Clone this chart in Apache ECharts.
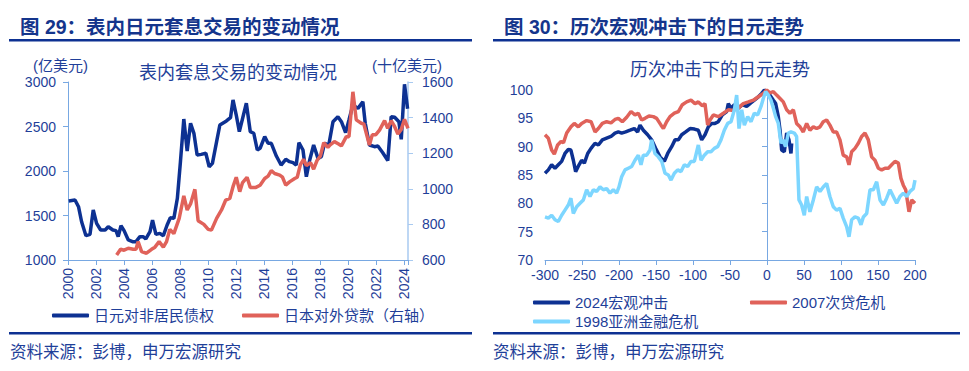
<!DOCTYPE html>
<html><head><meta charset="utf-8">
<script src="https://cdn.jsdelivr.net/npm/echarts@6/dist/echarts.min.js"></script>
<style>html,body{margin:0;padding:0;background:#fff}#c{width:969px;height:371px}</style>
</head><body><div id="c"></div>
<script>
// ---------- Chart 29 data ----------
const leftTitle = '图 29：表内日元套息交易的变动情况';
const leftInnerTitle = '表内套息交易的变动情况';
const leftSeriesNames = ['日元对非居民债权', '日本对外贷款（右轴）'];
// [decimal year, 亿美元]
const yenClaims = [[2000.05,1663],[2000.5,1674],[2000.75,1599],[2000.97,1430],[2001.28,1273],[2001.57,1289],[2001.8,1562],[2002.04,1412],[2002.33,1337],[2002.65,1337],[2002.87,1374],[2003.2,1337],[2003.42,1330],[2003.58,1262],[2003.78,1385],[2004.0,1330],[2004.3,1225],[2004.6,1206],[2004.85,1206],[2005.13,1262],[2005.37,1262],[2005.55,1236],[2005.85,1318],[2006.03,1449],[2006.27,1288],[2006.55,1299],[2006.8,1273],[2007.07,1393],[2007.3,1475],[2007.55,1468],[2007.8,1693],[2008.02,2105],[2008.26,2584],[2008.5,2225],[2008.74,2536],[2008.98,2423],[2009.21,2180],[2009.5,2187],[2009.83,2199],[2010.07,2048],[2010.3,2086],[2010.6,2330],[2010.83,2517],[2011.3,2562],[2011.59,2599],[2011.77,2798],[2012.0,2629],[2012.22,2442],[2012.72,2761],[2013.0,2442],[2013.25,2424],[2013.5,2236],[2013.7,2255],[2014.03,2386],[2014.27,2311],[2014.5,2311],[2014.86,2168],[2015.2,2067],[2015.53,2131],[2015.8,2105],[2016.05,2094],[2016.28,2067],[2016.47,2318],[2016.76,2236],[2017.0,1936],[2017.24,2124],[2017.52,2292],[2017.83,2142],[2018.07,2161],[2018.3,2311],[2018.6,2292],[2018.9,2554],[2019.25,2610],[2019.5,2554],[2019.8,2431],[2020.04,2573],[2020.32,2742],[2020.68,2704],[2021.03,2779],[2021.2,2536],[2021.5,2292],[2021.86,2273],[2022.1,2280],[2022.45,2205],[2022.81,2116],[2023.05,2610],[2023.3,2603],[2023.6,2554],[2023.77,2356],[2024.0,2974],[2024.22,2700]];
// [decimal year, 十亿美元]
const japanLoans = [[2003.47,628],[2003.75,660],[2004.0,655],[2004.3,666],[2004.65,660],[2004.85,660],[2005.0,703],[2005.25,647],[2005.6,638],[2005.96,660],[2006.2,672],[2006.5,703],[2006.8,672],[2007.03,703],[2007.26,772],[2007.55,748],[2007.93,834],[2008.26,960],[2008.5,881],[2008.74,915],[2009.05,997],[2009.28,821],[2009.69,800],[2010.0,772],[2010.23,768],[2010.6,834],[2010.95,881],[2011.25,937],[2011.54,946],[2011.77,1012],[2012.0,1065],[2012.25,984],[2012.44,1033],[2012.77,1065],[2013.0,1008],[2013.4,1008],[2013.7,1020],[2014.03,1058],[2014.27,1071],[2014.5,1102],[2014.74,1086],[2015.1,1077],[2015.3,1065],[2015.53,1021],[2015.8,1039],[2016.17,1058],[2016.35,1065],[2016.57,1134],[2016.8,1166],[2017.0,1130],[2017.3,1147],[2017.52,1110],[2017.76,1159],[2018.0,1184],[2018.24,1259],[2018.54,1233],[2018.7,1247],[2019.0,1265],[2019.3,1252],[2019.5,1241],[2019.85,1293],[2020.04,1293],[2020.32,1545],[2020.56,1387],[2020.92,1368],[2021.1,1364],[2021.5,1246],[2021.7,1303],[2021.94,1303],[2022.22,1330],[2022.58,1383],[2022.8,1340],[2023.05,1383],[2023.3,1349],[2023.53,1308],[2023.77,1334],[2024.0,1390],[2024.25,1340]];

// ---------- Chart 30 data ----------
const rightTitle = '图 30：历次宏观冲击下的日元走势';
const rightInnerTitle = '历次冲击下的日元走势';
const rightSeriesNames = ['2024宏观冲击', '2007次贷危机', '1998亚洲金融危机'];
// [days from shock, index]
const shock2024 = [[-300,85.3],[-295.5,85.9],[-291,86.8],[-286.5,86.2],[-282,86.8],[-277.5,87.4],[-273,88.8],[-268.5,89.5],[-265,89.4],[-261.7,87.6],[-258.6,85.6],[-254,86.8],[-250.5,87.6],[-246.8,87.1],[-242.3,88.8],[-237.8,89.7],[-232.4,90.6],[-227.9,90.3],[-222.5,91.2],[-216.7,91.5],[-210.8,91.8],[-205.4,92.4],[-200.9,92.6],[-196.4,92.4],[-191,92.6],[-185.1,92.9],[-179.3,93.2],[-174.8,92.6],[-171.6,93.8],[-167.1,92.9],[-161.3,92.1],[-155.9,91.2],[-150.5,89.7],[-144.6,88.2],[-138.7,87.4],[-134.2,88.8],[-128.8,90.0],[-124.3,91.2],[-119.8,91.2],[-115.3,92.1],[-109.9,92.6],[-104,93.2],[-98,93.1],[-92.8,92.9],[-88.3,91.2],[-83.8,92.1],[-79.3,93.5],[-74.8,94.1],[-70.3,94.1],[-65.8,94.4],[-60.4,95.6],[-54.5,96.2],[-52.3,97.6],[-48.6,96.8],[-44.1,97.4],[-38.7,96.8],[-33.3,97.4],[-27.5,97.1],[-23,97.6],[-17.1,98.2],[-11.7,98.8],[-7.2,99.4],[-3.6,100],[-0.5,99.7],[4,99.1],[8.6,98.2],[11.7,97.6],[15.3,95.3],[17.6,92.9],[19.8,89.4],[23.4,89.1],[26.6,92.4],[29.7,91.2],[32.4,88.8],[33.3,90.6]];
const crisis2007 = [[-300,92.1],[-295.5,91.5],[-291,89.4],[-287.4,88.7],[-282.9,90.3],[-278.4,90.9],[-275,90.7],[-270.7,92.4],[-264.9,93.5],[-260.4,94.1],[-255,93.5],[-250.5,94.1],[-243.7,94.6],[-237.8,94.4],[-232.4,92.6],[-227.9,93.2],[-222.5,94.1],[-216.7,94.4],[-210.8,94.2],[-205.4,94.8],[-200.9,95.0],[-195.5,94.4],[-189.6,95.2],[-183.8,96.2],[-178.4,95.6],[-173.9,95.9],[-169.4,94.7],[-164.9,95.0],[-159.5,95.4],[-153.6,95.3],[-149.1,95.0],[-143.2,93.8],[-140,93.2],[-135.6,94.4],[-131.1,95.3],[-125.2,95.9],[-119.8,96.2],[-114.4,97.4],[-108.6,97.9],[-102.7,98.2],[-97.3,97.6],[-92.8,97.9],[-87.4,97.2],[-83.8,97.6],[-80.2,93.8],[-77,94.7],[-72.5,95.6],[-65.8,95.3],[-59,95.9],[-52.3,96.5],[-45.5,96.4],[-38.7,96.8],[-32,97.6],[-25.2,97.9],[-18.5,98.2],[-11.7,98.8],[-5,99.4],[-0.5,100],[4,99.5],[8.6,99.7],[13,99.1],[17.6,98.5],[22,97.9],[26.6,96.5],[31,95.9],[35.6,96.5],[40,94.1],[44.6,93.5],[49,92.6],[53.6,94.1],[58,92.9],[62.6,93.5],[67.1,93.2],[71.6,93.5],[76,94.4],[80.6,94.7],[85,93.8],[89.6,92.6],[94,92.6],[98.6,91.2],[103,88.5],[107.6,88.2],[110.8,86.8],[114.4,89.1],[118.9,89.7],[123.4,90.6],[127.9,91.8],[132.4,92.4],[136.9,91.2],[141.4,88.2],[145.9,87.6],[150.5,86.2],[155,85.9],[159.5,86.2],[164,86.2],[168.5,86.8],[173,87.4],[177.5,87.1],[181,84.4],[184.2,83.2],[187.4,82.4],[191.9,78.5],[195.5,80.6],[200,80.0]];
const crisis1998 = [[-300,77.6],[-295.5,77.4],[-291,77.9],[-286.5,77.1],[-282,76.8],[-277.5,77.9],[-273,78.8],[-268.5,79.7],[-265,80.9],[-261.7,78.2],[-257.2,79.4],[-252.7,80.0],[-248.2,80.6],[-243.7,82.4],[-239.2,81.2],[-234.7,82.4],[-230.2,82.1],[-225.7,82.9],[-221.2,82.4],[-216.7,82.6],[-212.2,81.8],[-207.7,82.4],[-203.2,81.8],[-200,82.9],[-196.4,84.7],[-191.9,85.9],[-187.4,86.2],[-182.9,86.5],[-178.4,87.6],[-173.9,88.5],[-170.3,86.8],[-167.1,88.5],[-162.6,88.5],[-158.1,89.4],[-155.9,91.2],[-151.4,88.8],[-146.8,88.2],[-142.3,87.4],[-137.8,85.3],[-133.3,85.0],[-129.7,84.1],[-125.2,85.3],[-120.7,85.9],[-116.2,85.6],[-111.7,86.8],[-107.2,86.5],[-102.7,87.4],[-98.2,87.4],[-92.8,90.3],[-89.2,87.6],[-84.7,88.5],[-80.2,89.1],[-75.7,89.1],[-71.2,89.7],[-66.7,90.0],[-62.2,91.2],[-57.7,92.9],[-53.2,94.1],[-48.6,94.4],[-44.1,96.5],[-41,99.1],[-37.8,93.2],[-34.2,96.5],[-30.6,93.8],[-26.1,95.3],[-21.6,94.4],[-17.1,95.9],[-12.6,95.6],[-8.1,97.1],[-5,98.5],[-1.8,99.7],[1.8,99.1],[5.4,98.2],[8.6,96.8],[11.7,95.3],[15.3,94.1],[18.9,90.6],[22,91.2],[25.2,90.0],[28.8,92.4],[32.4,92.6],[36.9,92.4],[40,91.8],[43.2,80.6],[46.8,79.7],[50.4,77.9],[53.6,81.2],[58,78.5],[62.6,80.6],[67.1,82.9],[71.6,82.1],[76,82.9],[80.6,83.5],[85,81.2],[89.6,79.4],[94,78.8],[98.6,79.1],[103,77.4],[107.6,75.9],[110.8,74.1],[114.4,77.1],[118.9,77.6],[123.4,77.4],[127,76.2],[130.2,77.6],[134.7,78.2],[139.2,82.4],[143.7,82.4],[148.2,83.8],[152.7,80.6],[157.3,79.7],[161.7,80.9],[166.2,82.4],[170.7,81.2],[175.2,80.0],[179.7,81.2],[184.2,81.8],[188.7,81.2],[193.2,82.1],[197.7,82.6],[200,84.1]];
const sourceText = '资料来源：彭博，申万宏源研究';

// ---------- styling ----------
const FONT = "'Liberation Sans','Noto Sans CJK SC',sans-serif";
const TXT = '#1f3f99';
const NAVY = '#0d3192';
const RED = '#e0625a';
const LIGHT = '#7dd6ff';
const AX = '#78a8e2';
const plain = v => String(v);

function axisCommon(extra) {
  return Object.assign({
    splitLine: {show: false},
    axisLine: {show: true, lineStyle: {color: AX, width: 1}},
    axisTick: {show: true, length: 5, lineStyle: {color: AX}},
    axisLabel: {color: TXT, fontSize: 14, fontFamily: FONT, formatter: plain}
  }, extra);
}

const chart = echarts.init(document.getElementById('c'), null, {renderer: 'svg'});
const legendText = {color: TXT, fontSize: 15, fontFamily: FONT};
function mkLegend(name, left, top) {
  return {data: [name], left: left, top: top, padding: 0, icon: 'roundRect', itemWidth: 37, itemHeight: 4,
          itemGap: 0, textStyle: legendText, selectedMode: false};
}
chart.setOption({
  animation: false,
  textStyle: {fontFamily: FONT},
  grid: [
    {left: 68, top: 82, width: 340, height: 178},
    {left: 545, top: 90, width: 370, height: 170}
  ],
  xAxis: [
    axisCommon({type: 'value', gridIndex: 0, min: 2000, max: 2024.25, interval: 2,
      axisLabel: {color: TXT, fontSize: 14, fontFamily: FONT, rotate: 90, margin: 8,
        formatter: v => (Math.abs(v % 2) < 1e-9 ? String(v) : '')}}),
    axisCommon({type: 'value', gridIndex: 1, min: -300, max: 200, interval: 50,
      axisLabel: {color: TXT, fontSize: 14, fontFamily: FONT, margin: 8, formatter: plain}})
  ],
  yAxis: [
    axisCommon({type: 'value', gridIndex: 0, min: 1000, max: 3000, interval: 500,
      axisLabel: {color: TXT, fontSize: 14, fontFamily: FONT, margin: 12, formatter: plain}}),
    axisCommon({type: 'value', gridIndex: 0, position: 'right', min: 600, max: 1600, interval: 200,
      axisLine: {show: true, lineStyle: {color: '#a9caf0', width: 1.5}},
      axisTick: {show: true, length: 5, lineStyle: {color: '#a9caf0'}},
      axisLabel: {color: TXT, fontSize: 14, fontFamily: FONT, margin: 14, formatter: plain}}),
    axisCommon({type: 'value', gridIndex: 1, min: 70, max: 100, interval: 5,
      axisLabel: {color: TXT, fontSize: 14, fontFamily: FONT, margin: 12, formatter: plain}})
  ],
  legend: [
    mkLegend(leftSeriesNames[0], 52, 308),
    mkLegend(leftSeriesNames[1], 242, 308),
    mkLegend(rightSeriesNames[0], 533, 295),
    mkLegend(rightSeriesNames[1], 750, 295),
    mkLegend(rightSeriesNames[2], 533, 314)
  ],
  series: [
    {name: leftSeriesNames[0], type: 'line', xAxisIndex: 0, yAxisIndex: 0, data: yenClaims,
      showSymbol: false, symbol: 'none', lineStyle: {color: NAVY, width: 3.5}, itemStyle: {color: NAVY}},
    {name: leftSeriesNames[1], type: 'line', xAxisIndex: 0, yAxisIndex: 1, data: japanLoans,
      showSymbol: false, symbol: 'none', lineStyle: {color: RED, width: 3.5}, itemStyle: {color: RED}},
    {name: rightSeriesNames[0], type: 'line', xAxisIndex: 1, yAxisIndex: 2, data: shock2024,
      showSymbol: false, symbol: 'none', lineStyle: {color: NAVY, width: 3.5}, itemStyle: {color: NAVY}},
    {name: rightSeriesNames[1], type: 'line', xAxisIndex: 1, yAxisIndex: 2, data: crisis2007, clip: false,
      showSymbol: false, symbol: 'none', lineStyle: {color: RED, width: 3.5}, itemStyle: {color: RED},
      markLine: {silent: true, symbol: 'none', label: {show: false},
        lineStyle: {color: RED, width: 1, type: 'solid'},
        data: [[{coord: [0, 70]}, {coord: [0, 101]}]]}},
    {name: rightSeriesNames[2], type: 'line', xAxisIndex: 1, yAxisIndex: 2, data: crisis1998,
      showSymbol: false, symbol: 'none', lineStyle: {color: LIGHT, width: 3.5}, itemStyle: {color: LIGHT}}
  ],
  graphic: [
    {type: 'text', x: 20, y: 27, style: {text: leftTitle, fill: '#14358c', font: "bold 19.5px " + FONT, textVerticalAlign: 'middle'}},
    {type: 'text', x: 504, y: 27, style: {text: rightTitle, fill: '#14358c', font: "bold 19.5px " + FONT, textVerticalAlign: 'middle'}},
    {type: 'rect', shape: {x: 9, y: 39, width: 463, height: 2.5}, style: {fill: '#0d3192'}},
    {type: 'rect', shape: {x: 493, y: 39, width: 467, height: 2.5}, style: {fill: '#0d3192'}},
    {type: 'rect', shape: {x: 9, y: 332, width: 463, height: 2.5}, style: {fill: '#0d3192'}},
    {type: 'rect', shape: {x: 493, y: 332, width: 467, height: 2.5}, style: {fill: '#0d3192'}},
    {type: 'text', x: 238, y: 73, style: {text: leftInnerTitle, fill: TXT, font: "18px " + FONT, textAlign: 'center', textVerticalAlign: 'middle'}},
    {type: 'text', x: 720, y: 70, style: {text: rightInnerTitle, fill: TXT, font: "18px " + FONT, textAlign: 'center', textVerticalAlign: 'middle'}},
    {type: 'text', x: 33, y: 65, style: {text: '(亿美元)', fill: TXT, font: "15px " + FONT, textVerticalAlign: 'middle'}},
    {type: 'text', x: 372, y: 65, style: {text: '(十亿美元)', fill: TXT, font: "15px " + FONT, textVerticalAlign: 'middle'}},
    {type: 'text', x: 10, y: 352, style: {text: sourceText, fill: TXT, font: "16.5px " + FONT, textVerticalAlign: 'middle'}},
    {type: 'text', x: 493, y: 352, style: {text: sourceText, fill: TXT, font: "16.5px " + FONT, textVerticalAlign: 'middle'}}
  ]
});
</script></body></html>
